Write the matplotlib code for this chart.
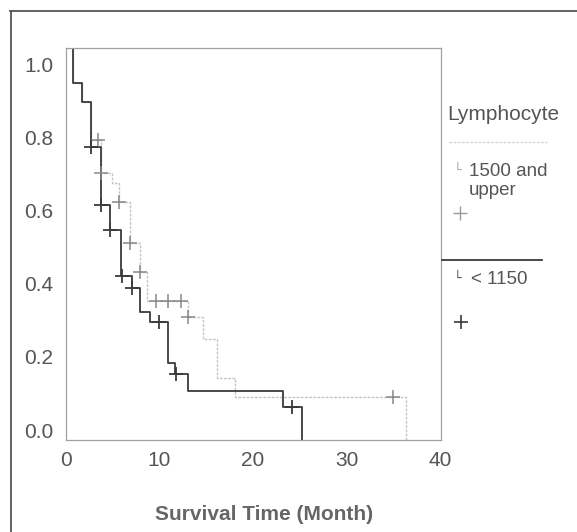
#Curvas de supervivencia por linfocitos (Kaplan-Meier)
from matplotlib import pyplot as plt
from matplotlib.lines import Line2D
import matplotlib.transforms as mtransforms

plt.rcParams['font.family'] = ['Liberation Sans', 'DejaVu Sans']

#Datos
t_bajo = [0, 0.72, 1.68, 2.67, 3.71, 4.70, 5.84, 7.02, 7.90, 8.97, 10.93, 11.65, 13.07, 23.2, 25.2]
s_bajo = [1.0, 0.910, 0.862, 0.748, 0.599, 0.536, 0.418, 0.389, 0.327, 0.301, 0.196, 0.169, 0.125, 0.084, 0.0]
tc_bajo = [2.67, 3.71, 4.70, 5.95, 7.02, 9.97, 11.75, 24.2]
sc_bajo = [0.748, 0.599, 0.536, 0.418, 0.389, 0.301, 0.169, 0.084]

t_alto = [0, 0.72, 1.68, 2.67, 3.74, 4.88, 5.66, 6.84, 7.90, 8.62, 13.07, 14.67, 16.1, 18.06, 36.4]
s_alto = [1.0, 0.910, 0.862, 0.765, 0.681, 0.655, 0.608, 0.502, 0.429, 0.355, 0.313, 0.257, 0.157, 0.110, 0.0]
tc_alto = [3.45, 3.74, 5.69, 6.84, 7.90, 9.62, 10.93, 12.25, 13.10, 34.97]
sc_alto = [0.765, 0.681, 0.608, 0.502, 0.429, 0.355, 0.355, 0.355, 0.313, 0.110]

xticks = [0, 10, 20, 30, 40]
yticks = [0.0, 0.2, 0.4, 0.6, 0.8, 1.0]
titulo_leyenda = "Lymphocyte"
grupos = ["1500 and\nupper", "< 1150"]

W, H = 577, 532
fig = plt.figure(figsize=(W/100, H/100), dpi=100)
ax = fig.add_axes([66/W, 1-440/H, 374.5/W, 392/H])

gris_claro = '#c4c4c4'
gris_osc = '#3a3a3a'

ax.step(t_alto, s_alto, where='post', color=gris_claro, lw=1.0, ls=(0, (2, 1)))
ax.step(t_bajo, s_bajo, where='post', color=gris_osc, lw=1.3)
ax.plot(tc_alto, sc_alto, ls='none', marker='+', ms=10, mew=1.1, color='#888888')
ax.plot(tc_bajo, sc_bajo, ls='none', marker='+', ms=10, mew=1.3, color=gris_osc)

ax.set_xlim(0, 40.05)
ax.set_ylim(0, 1)
ax.set_xticks(xticks)
ax.set_yticks(yticks)
ax.set_yticklabels([f"{v:.1f}" for v in yticks])
ax.tick_params(length=0, labelsize=15, labelcolor='#555555')
ax.tick_params(axis='y', pad=9)
ax.tick_params(axis='x', pad=8)
for s in ax.spines.values():
    s.set_color('#a0a0a0')
    s.set_linewidth(0.9)

ax.set_xlabel("Survival Time (Month)", fontsize=15, fontweight='bold', color='#666666')
ax.xaxis.set_label_coords(0.53, -0.19)
ax.xaxis.label.set_va('center')

#desplazamiento de las etiquetas del eje y (como en la figura escaneada)
desp = [-10, -4.6, 0.8, 6.2, 11.6, 17]
for lbl, dy in zip(ax.get_yticklabels(), desp):
    off = mtransforms.ScaledTranslation(0, -dy/100, fig.dpi_scale_trans)
    lbl.set_transform(lbl.get_transform() + off)

#leyenda a mano
def fx(x): return x/W
def fy(y): return 1 - y/H

fig.text(fx(447), fy(115), titulo_leyenda, fontsize=15, color='#555555', va='center')
fig.add_artist(Line2D([fx(449), fx(547)], [fy(141.7), fy(141.7)], color='#d4d4d4', lw=1.0, ls=(0, (2, 1))))
fig.text(fx(454), fy(170), "└", fontsize=9, color='#aaaaaa', va='center', family='DejaVu Sans')
fig.text(fx(469), fy(181), grupos[0], fontsize=13.5, color='#555555', va='center', linespacing=1.15)
fig.add_artist(Line2D([fx(460)], [fy(213)], marker='+', ms=10, mew=1.0, color='#999999'))
fig.add_artist(Line2D([fx(442), fx(542)], [fy(260), fy(260)], color=gris_osc, lw=1.3))
fig.text(fx(454), fy(278), "└", fontsize=9, color='#555555', va='center', family='DejaVu Sans')
fig.text(fx(471), fy(280), grupos[1], fontsize=13.5, color='#555555', va='center')
fig.add_artist(Line2D([fx(461)], [fy(322)], marker='+', ms=10, mew=1.2, color=gris_osc))

#marco de la figura
fig.add_artist(Line2D([fx(10), fx(577)], [fy(11), fy(11)], color='#555555', lw=1.3))
fig.add_artist(Line2D([fx(11), fx(11)], [fy(11), fy(532)], color='#555555', lw=1.3))

plt.savefig('out.png', dpi=100)
